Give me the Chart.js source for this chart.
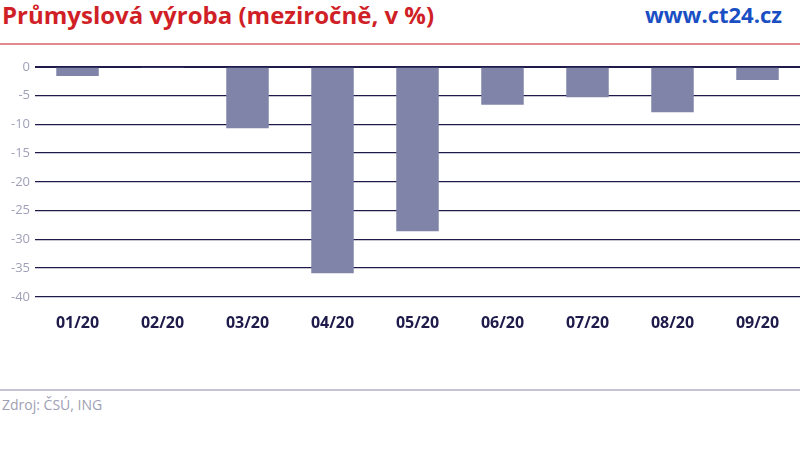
<!DOCTYPE html>
<html>
<head>
<meta charset="utf-8">
<script src="https://cdn.jsdelivr.net/npm/chart.js@4"></script>
<style>
  body { margin: 0; width: 800px; height: 449px; background: #fff; position: relative; overflow: hidden; font-family: "Open Sans", sans-serif; }
  #title { position: absolute; left: 2px; top: -2px; font-size: 24px; font-weight: bold; color: #d01f27; }
  #site { position: absolute; right: 18px; top: -1px; font-size: 22px; font-weight: bold; color: #1a4fc4; }
  #topline { position: absolute; left: 0; top: 43px; width: 800px; height: 2px; background: #e08a8e; }
  #botline { position: absolute; left: 0; top: 389px; width: 800px; height: 2px; background: #c4c4d4; }
  #source { position: absolute; left: 2px; top: 395px; font-size: 14px; color: #a0a0b4; }
  #wrap { position: absolute; left: 0; top: 54px; width: 800px; height: 296px; }
</style>
</head>
<body>
<div id="title">Průmyslová výroba (meziročně, v %)</div>
<div id="site">www.ct24.cz</div>
<div id="topline"></div>
<div id="wrap"><canvas id="chart"></canvas></div>
<div id="botline"></div>
<div id="source">Zdroj: ČSÚ, ING</div>
<script>
let months = ['01/20','02/20','03/20','04/20','05/20','06/20','07/20','08/20','09/20'];
let production = [-1.6, -0.1, -10.7, -35.9, -28.6, -6.6, -5.3, -7.9, -2.3];

new Chart(document.getElementById('chart'), {
  type: 'bar',
  data: {
    labels: months,
    datasets: [{
      data: production,
      backgroundColor: '#8084a8',
      borderWidth: 0,
      barPercentage: 0.5,
      categoryPercentage: 1
    }]
  },
  options: {
    responsive: true,
    maintainAspectRatio: false,
    animation: false,
    layout: { padding: { top: 8, right: 0, left: 0, bottom: 0 } },
    plugins: { legend: { display: false }, tooltip: { enabled: false } },
    scales: {
      x: {
        grid: { display: false, drawTicks: false },
        border: { display: false },
        ticks: { color: '#1e1b4b', font: { family: 'Open Sans', size: 16, weight: 'bold' }, padding: 17 }
      },
      y: {
        min: -40, max: 0,
        afterFit: s => { s.width = 35; },
        grid: {
          drawTicks: false,
          color: '#1e1b4b',
          lineWidth: c => c.tick && c.tick.value === 0 ? 2 : 1.2
        },
        border: { display: false },
        ticks: { stepSize: 5, color: '#a0a0b8', font: { family: 'Open Sans', size: 13 }, padding: 5 }
      }
    }
  }
});
</script>
</body>
</html>
